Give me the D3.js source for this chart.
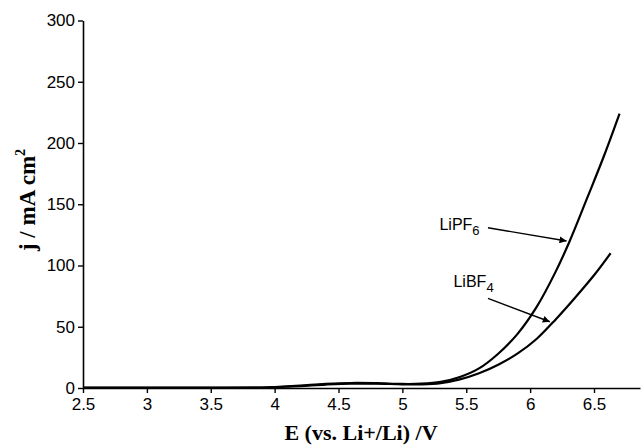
<!DOCTYPE html>
<html>
<head>
<meta charset="utf-8">
<script src="https://cdn.jsdelivr.net/npm/d3@7"></script>
<style>
  html, body { margin: 0; padding: 0; background: #fff; }
  svg { display: block; }
</style>
</head>
<body>
<svg id="chart" width="643" height="446"></svg>
<script>
// Anodic current density vs. potential for two lithium salts
const lipf6E = [2.5, 3.0, 3.5, 3.9, 4.0, 4.2, 4.4, 4.6, 4.8, 5.0, 5.15, 5.3, 5.45, 5.6, 5.75, 5.9, 6.05, 6.2, 6.31, 6.45, 6.58, 6.7];
const lipf6J = [0.3, 0.3, 0.3, 0.4, 0.8, 2.0, 3.3, 4.1, 3.9, 3.3, 3.5, 5, 9, 16, 28, 44, 66, 95, 120, 156, 190, 224];

const libf4E = [2.5, 3.0, 3.5, 3.9, 4.0, 4.2, 4.4, 4.6, 4.8, 5.0, 5.15, 5.3, 5.45, 5.6, 5.75, 5.9, 6.05, 6.2, 6.35, 6.5, 6.63];
const libf4J = [0.2, 0.2, 0.2, 0.3, 0.6, 1.6, 2.8, 3.6, 3.5, 3.0, 3.0, 4, 7, 12, 19, 28, 40, 56, 73.5, 92, 110];

const xTicks = [2.5, 3, 3.5, 4, 4.5, 5, 5.5, 6, 6.5];
const yTicks = [0, 50, 100, 150, 200, 250, 300];

// Callouts: label anchor, arrow start, arrow tip (data units)
const calloutNames = ["LiPF", "LiBF"];
const calloutSubs  = ["6", "4"];
const calloutText  = [[5.29, 129], [5.40, 82.4]];
const calloutFrom  = [[5.67, 130.8], [5.67, 73.2]];
const calloutTo    = [[6.285, 120], [6.154, 54.1]];

const svg = d3.select("#chart");
const x = d3.scaleLinear().domain([2.5, 6.86]).range([83, 640]);
const y = d3.scaleLinear().domain([0, 300]).range([388, 20.5]);

svg.append("defs").append("marker")
  .attr("id", "head")
  .attr("viewBox", "0 0 10 10")
  .attr("refX", 10).attr("refY", 5)
  .attr("markerWidth", 9).attr("markerHeight", 7)
  .attr("markerUnits", "userSpaceOnUse")
  .attr("orient", "auto")
  .append("path").attr("d", "M0,0 L10,5 L0,10 Z").attr("fill", "#000");

// Axes
const xAxis = d3.axisBottom(x).tickValues(xTicks).tickSize(5).tickPadding(5)
  .tickFormat(d3.format("")).tickSizeOuter(0);
const yAxis = d3.axisLeft(y).tickValues(yTicks).tickSize(5).tickPadding(3).tickSizeOuter(0);

const gx = svg.append("g").attr("transform", `translate(0,${y(0)})`).call(xAxis);
const gy = svg.append("g").attr("transform", `translate(${x(2.5)},0)`).call(yAxis);

[gx, gy].forEach(g => {
  g.select(".domain").attr("stroke", "#000").attr("stroke-width", 1.6);
  g.selectAll(".tick line").attr("stroke", "#000").attr("stroke-width", 1.4);
  g.selectAll(".tick text")
    .attr("fill", "#000")
    .style("font-family", "'Liberation Sans', Arial, sans-serif")
    .style("font-size", "17px");
});

// Axis titles
svg.append("text")
  .attr("x", 361).attr("y", 440)
  .attr("text-anchor", "middle")
  .style("font-family", "'Liberation Serif', 'Times New Roman', serif")
  .style("font-weight", "bold").style("font-size", "22px")
  .text("E (vs. Li+/Li) /V");

const yTitle = svg.append("text")
  .attr("transform", "translate(35,200) rotate(-90)")
  .attr("text-anchor", "middle")
  .style("font-family", "'Liberation Serif', 'Times New Roman', serif")
  .style("font-weight", "bold").style("font-size", "23px");
yTitle.append("tspan").text("j / mA cm");
yTitle.append("tspan").attr("dy", -10).style("font-size", "14px").text("2");

// Curves
const line = d3.line().x(d => x(d[0])).y(d => y(d[1])).curve(d3.curveCatmullRom.alpha(0.5));
const series = [d3.zip(lipf6E, lipf6J), d3.zip(libf4E, libf4J)];
svg.append("g").selectAll("path").data(series).join("path")
  .attr("d", line)
  .attr("fill", "none")
  .attr("stroke", "#000")
  .attr("stroke-width", 2.2);

// Callouts
calloutNames.forEach((name, i) => {
  const t = svg.append("text")
    .attr("x", x(calloutText[i][0])).attr("y", y(calloutText[i][1]))
    .style("font-family", "'Liberation Sans', Arial, sans-serif")
    .style("font-size", "16px");
  t.append("tspan").text(name);
  t.append("tspan").attr("dy", 5).style("font-size", "13px").text(calloutSubs[i]);

  svg.append("line")
    .attr("x1", x(calloutFrom[i][0])).attr("y1", y(calloutFrom[i][1]))
    .attr("x2", x(calloutTo[i][0])).attr("y2", y(calloutTo[i][1]))
    .attr("stroke", "#000").attr("stroke-width", 1.4)
    .attr("marker-end", "url(#head)");
});
</script>
</body>
</html>
